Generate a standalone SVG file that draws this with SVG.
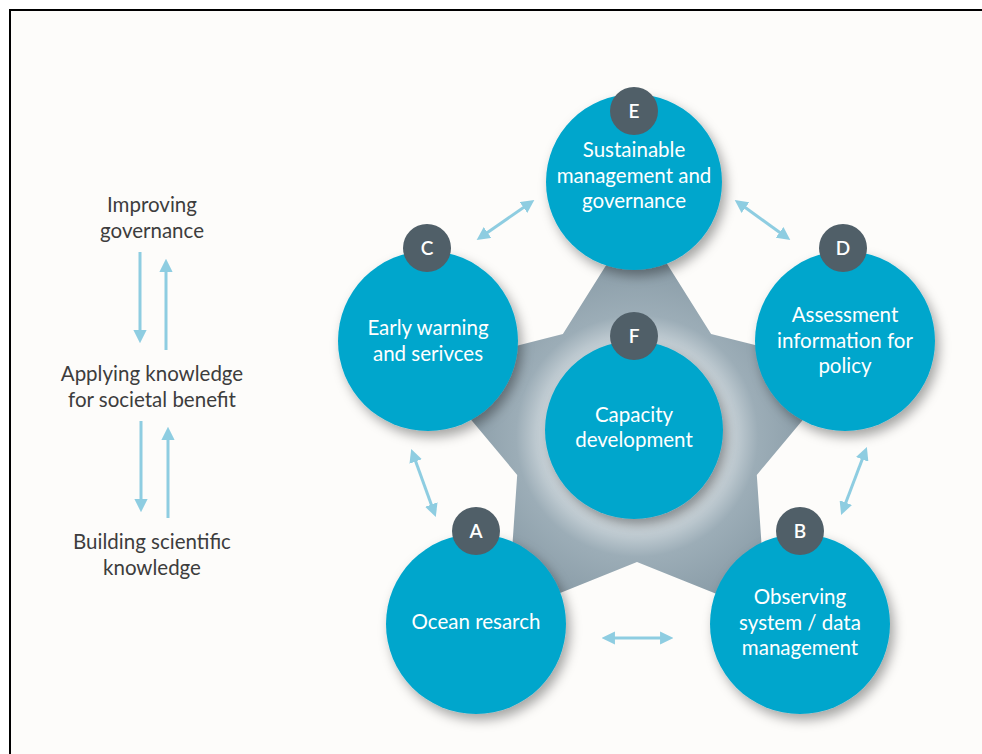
<svg xmlns="http://www.w3.org/2000/svg" width="982" height="754" viewBox="0 0 982 754">
<defs>
<style>
.lbl{font-family:Lato,"Open Sans","Liberation Sans",sans-serif;font-size:20.5px;fill:#3d3d3d;text-anchor:middle}
.nt{font-family:Lato,"Open Sans","Liberation Sans",sans-serif;font-size:20.5px;fill:#ffffff;text-anchor:middle}
.bt{font-family:Lato,"Open Sans","Liberation Sans",sans-serif;font-size:19px;font-weight:600;fill:#ffffff;text-anchor:middle}
.circ{fill:#00a6cc;filter:url(#sh)}
.badge{fill:#505f68}
.conn{stroke:#8ecde1;stroke-width:3;fill:none;marker-start:url(#ah);marker-end:url(#ah)}
.conn1{stroke:#8ecde1;stroke-width:3;fill:none;marker-end:url(#ah)}
</style>
<marker id="ah" viewBox="0 0 10 10" refX="6" refY="5" markerWidth="4.4" markerHeight="4.4" orient="auto-start-reverse" markerUnits="strokeWidth">
<path d="M0,0 L10,5 L0,10 z" fill="#8ecde1"/>
</marker>
<filter id="sh" x="-30%" y="-30%" width="160%" height="160%">
<feDropShadow dx="4" dy="6" stdDeviation="6" flood-color="#000" flood-opacity="0.35"/>
</filter>
<radialGradient id="sg" gradientUnits="userSpaceOnUse" cx="637" cy="436" r="220">
<stop offset="0" stop-color="#e2e8eb"/>
<stop offset="0.41" stop-color="#cfd8dd"/>
<stop offset="0.55" stop-color="#9cadb7"/>
<stop offset="1" stop-color="#7b8f9b"/>
</radialGradient>
</defs>
<rect x="0" y="0" width="982" height="754" fill="#ffffff"/>
<rect x="10" y="10" width="990" height="760" fill="#fdfcfa" stroke="#000" stroke-width="2"/>

<g id="left-labels">
<text class="lbl" x="152" y="212">Improving</text>
<text class="lbl" x="152" y="238">governance</text>
<text class="lbl" x="152" y="381">Applying knowledge</text>
<text class="lbl" x="152" y="407">for societal benefit</text>
<text class="lbl" x="152" y="549">Building scientific</text>
<text class="lbl" x="152" y="575">knowledge</text>
</g>

<g id="star">
<polygon points="637,216 711.1,334.1 846.2,368 756.8,474.9 766.3,614 637,562 507.7,614 517.2,474.9 427.8,368 562.9,334.1" fill="url(#sg)"/>
</g>

<g id="connectors">
<line class="conn1" x1="140" y1="252" x2="140" y2="338"/>
<line class="conn1" x1="166" y1="350" x2="166" y2="264"/>
<line class="conn1" x1="141" y1="421" x2="141" y2="507"/>
<line class="conn1" x1="168" y1="518" x2="168" y2="432"/>
<line class="conn" x1="481" y1="237" x2="530" y2="203"/>
<line class="conn" x1="739" y1="203" x2="786" y2="237"/>
<line class="conn" x1="413" y1="454" x2="434" y2="512"/>
<line class="conn" x1="865" y1="452" x2="843" y2="510"/>
<line class="conn" x1="607" y1="638" x2="668" y2="638"/>
</g>

<g id="node-E">
<circle class="circ" cx="634" cy="182" r="88"/>
<circle class="badge" cx="634" cy="111" r="24"/>
<text class="bt" x="634" y="118">E</text>
<text class="nt" x="634" y="157">Sustainable</text>
<text class="nt" x="634" y="183">management and</text>
<text class="nt" x="634" y="208">governance</text>
</g>

<g id="node-C">
<circle class="circ" cx="428" cy="341" r="90"/>
<circle class="badge" cx="427" cy="248" r="24"/>
<text class="bt" x="427" y="255">C</text>
<text class="nt" x="428" y="335">Early warning</text>
<text class="nt" x="428" y="361">and serivces</text>
</g>

<g id="node-D">
<circle class="circ" cx="845" cy="341" r="90"/>
<circle class="badge" cx="843" cy="248" r="24"/>
<text class="bt" x="843" y="255">D</text>
<text class="nt" x="845" y="322">Assessment</text>
<text class="nt" x="845" y="348">information for</text>
<text class="nt" x="845" y="373">policy</text>
</g>

<g id="node-F">
<circle class="circ" cx="634" cy="430" r="89"/>
<circle class="badge" cx="634" cy="336" r="24"/>
<text class="bt" x="634" y="343">F</text>
<text class="nt" x="634" y="422">Capacity</text>
<text class="nt" x="634" y="447">development</text>
</g>

<g id="node-A">
<circle class="circ" cx="476" cy="624" r="90"/>
<circle class="badge" cx="476" cy="531" r="24"/>
<text class="bt" x="476" y="538">A</text>
<text class="nt" x="476" y="629">Ocean resarch</text>
</g>

<g id="node-B">
<circle class="circ" cx="800" cy="624" r="90"/>
<circle class="badge" cx="800" cy="531" r="24"/>
<text class="bt" x="800" y="538">B</text>
<text class="nt" x="800" y="604">Observing</text>
<text class="nt" x="800" y="630">system / data</text>
<text class="nt" x="800" y="655">management</text>
</g>
</svg>
